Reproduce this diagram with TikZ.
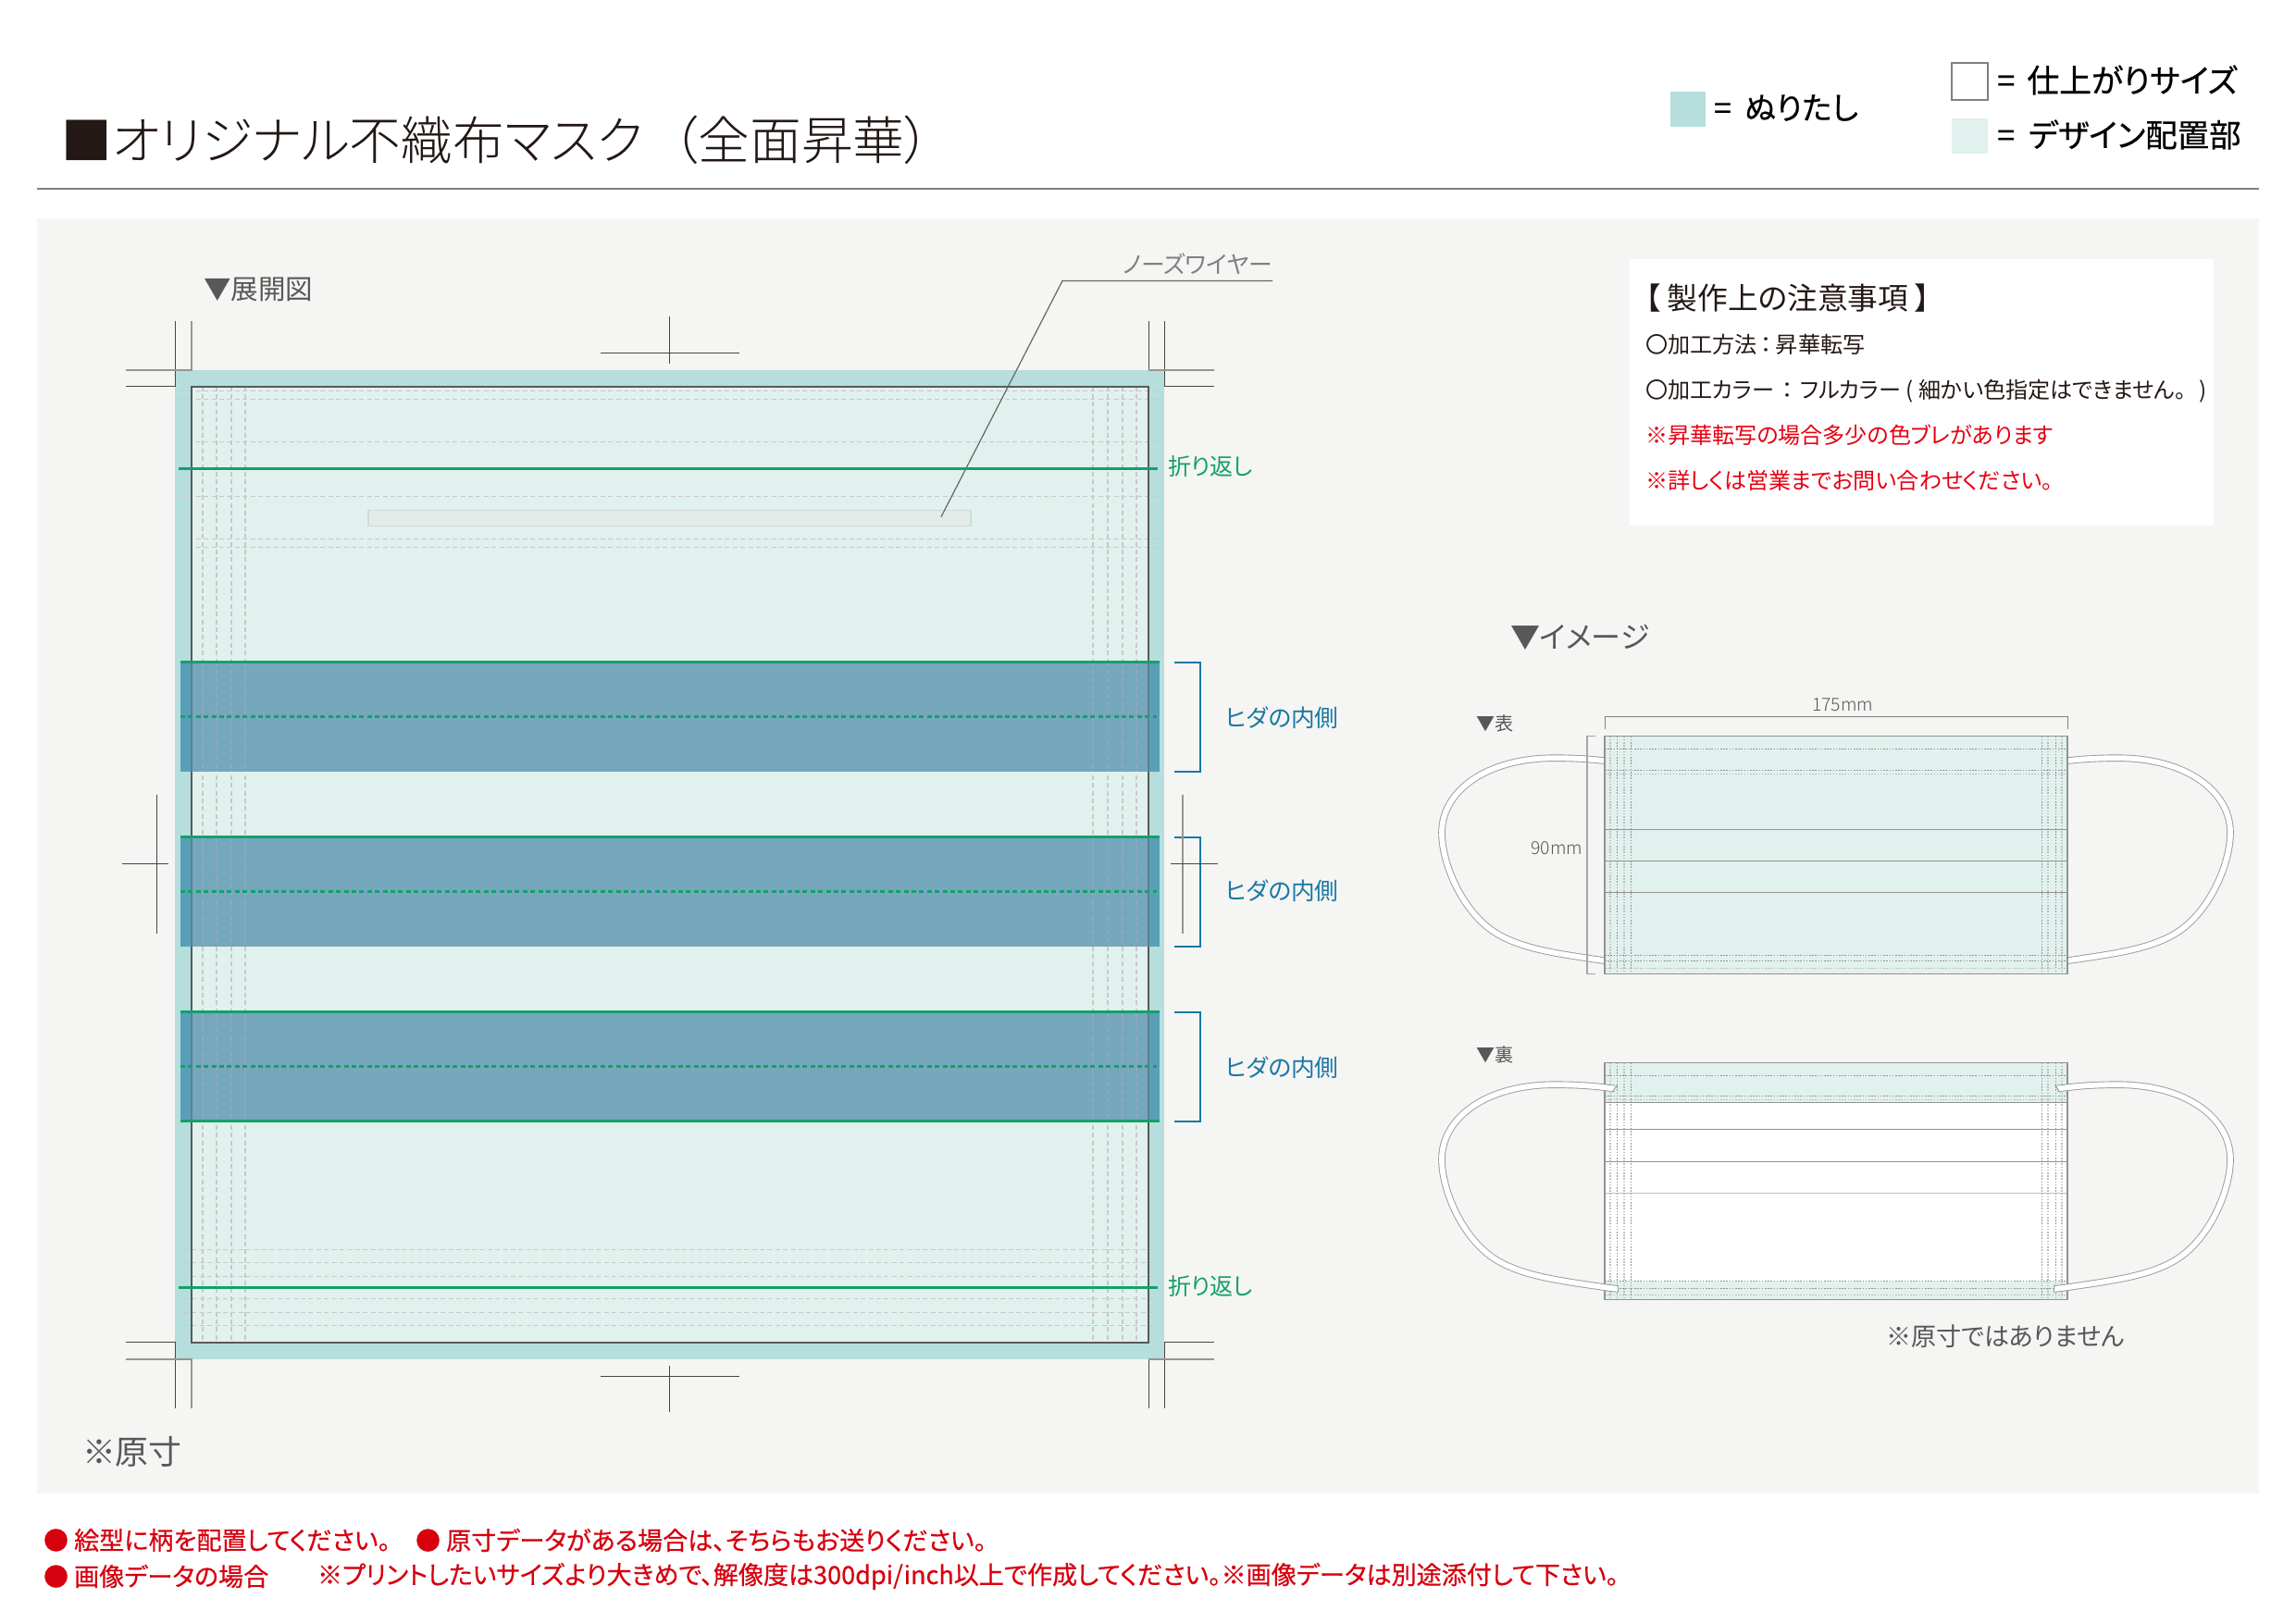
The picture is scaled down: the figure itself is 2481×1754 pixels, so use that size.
\documentclass[tikz,border=0pt]{standalone}
\usepackage{fontspec}
\setmainfont{Noto Sans CJK JP}[RawFeature=+palt]
\newfontfamily\lightfont{Noto Sans CJK JP Light}[RawFeature=+palt]
\newfontfamily\heavyfont{Noto Sans CJK JP}[RawFeature=+palt,FakeBold=0.45]
\usetikzlibrary{positioning}

\definecolor{bleedcol}{HTML}{B5DEDD}
\definecolor{designcol}{HTML}{E1F1EE}
\definecolor{panelcol}{HTML}{F5F5F3}
\definecolor{foldin}{HTML}{75A7BD}
\definecolor{foldout}{HTML}{5A9FB8}
\definecolor{foldtrim}{HTML}{5F7F90}
\definecolor{folddash}{HTML}{8DA9BC}
\definecolor{greencol}{HTML}{14A06A}
\definecolor{bluecol}{HTML}{1A78A3}
\definecolor{redcol}{HTML}{E60012}
\definecolor{deepred}{HTML}{D7000F}
\definecolor{inkcol}{HTML}{231815}
\definecolor{textcol}{HTML}{595757}
\definecolor{markdark}{HTML}{4A4443}
\definecolor{markgrey}{HTML}{9A9590}
\definecolor{dashcol}{HTML}{C8C9C9}
\definecolor{wirefill}{HTML}{E4ECEA}
\definecolor{wireedge}{HTML}{D0DADA}

\newcommand{\earcurve}{.. controls (-18,24.5) and (-36,23.7) .. (-54.3,23.7)
  .. controls (-127.7,23.7) and (-176,59.3) .. (-176,104.3)
  .. controls (-176,139.3) and (-152.7,191) .. (-117.7,212.7)
  .. controls (-87.7,231.3) and (-44.3,236) .. (0,242.7)}

\tikzset{
  lbl/.style={anchor=west, inner sep=0pt, outer sep=0pt},
  darkmark/.style={draw=markdark, line width=0.01cm},
  greymark/.style={draw=markgrey, line width=0.02cm},
  bigdash/.style={draw=dashcol, line width=0.014cm, dash pattern=on 0.05cm off 0.034cm},
  smalldark/.style={draw=gray!85, line width=0.008cm, dash pattern=on 0.016cm off 0.016cm},
  smalllight/.style={draw=gray!50, line width=0.014cm, dash pattern=on 0.016cm off 0.016cm},
  earband/.style={draw=gray!80, line width=0.009cm, double=white, double distance=0.058cm},
  maskline/.style={draw=gray!85, line width=0.012cm},
}

\begin{document}
\begin{tikzpicture}[x=0.01cm, y=-0.01cm]
  \useasboundingbox (0,0) rectangle (2481,1754);
  \fill[white] (0,0) rectangle (2481,1754);
  \begin{scope}[yshift=-0.015cm]

  % Header
  \node (mark) [lbl, text=inkcol, font=\fontsize{15.5}{20}\selectfont] at (66,150) {■};
  \node (title) [lbl, text=inkcol, font=\fontsize{15.85}{18}\lightfont] at (121,150) {オリジナル不織布マスク\hspace{9pt}（全面昇華）};
  \draw[draw=gray, line width=0.02cm] (40,202) -- (2441,202);

  % Legend
  \fill[bleedcol] (1805,97) rectangle (1843,135);
  \node (bleedtxt) [lbl, font=\fontsize{9.6}{12}\heavyfont] at (1852,115) {=\hspace{2pt} ぬりたし};
  \draw[draw=gray, line width=0.02cm, fill=white] (2109,66) rectangle (2148,106);
  \node (trimtxt) [lbl, font=\fontsize{9.9}{12}\heavyfont] at (2158,85) {=\hspace{1.5pt} 仕上がりサイズ};
  \fill[designcol] (2109,126) rectangle (2148,164);
  \node (designtxt) [lbl, font=\fontsize{9.8}{12}\heavyfont] at (2158,144) {=\hspace{2pt} デザイン配置部};

  % Panel
  \fill[panelcol] (40,234) rectangle (2441,1612);
  \node (plan) [lbl, text=textcol, font=\fontsize{8.4}{10}\selectfont] at (220,311) {▼展開図};
  \node (scale) [lbl, text=textcol, font=\fontsize{10.2}{12}\selectfont] at (89,1567) {※原寸};

  % Pattern
  \fill[bleedcol] (189,398) rectangle (1258,1467);
  \fill[designcol] (207,416) rectangle (1241,1449);
  \foreach \x in {219,234,250,265,1181,1197,1213,1228}
    \draw[bigdash] (\x,416) -- (\x,1449);
  \foreach \y in {421,430,476,535,581,590}
    \draw[bigdash] (195,\y) -- (1253,\y);
  \foreach \y in {1349,1363,1378,1402,1417,1431}
    \draw[bigdash] (199,\y) -- (1250,\y);
  \draw[draw=black!65, line width=0.02cm] (207,416) rectangle (1241,1449);

  % Nose wire
  \draw[draw=wireedge, line width=0.015cm, fill=wirefill] (398,550) rectangle (1049,567);
  \coordinate (wiretip) at (1017,557);
  \coordinate (wirebend) at (1148,302);
  \coordinate (wireend) at (1375,302);
  \node (wiretxt) [lbl, text=gray, font=\fontsize{7.3}{9}\selectfont] at (1213,284) {ノーズワイヤー};
  \draw[draw=black!60, line width=0.012cm] (wiretip) -- (wirebend) -- (wireend);

  % Fold lines
  \foreach \y/\n in {505/fa,1390/fb} {
    \draw[draw=greencol, line width=0.025cm] (193,\y) -- (1251,\y);
    \node (\n) [lbl, text=greencol, font=\fontsize{7.1}{9}\selectfont] at (1262,\y-2) {折り返し};
  }

  % Pleats
  \foreach \t/\m/\b/\l/\n in {714/773/832/774/pa,903/962/1021/961/pb,1092/1151/1210/1152/pc} {
    \fill[foldout] (195,\t) rectangle (1253,\b);
    \fill[foldin] (207,\t) rectangle (1241,\b);
    \foreach \x in {219,234,250,265,1181,1197,1213,1228}
      \draw[bigdash, draw=folddash] (\x,\t) -- (\x,\b);
    \draw[draw=foldtrim, line width=0.02cm] (207,\t) -- (207,\b) (1241,\t) -- (1241,\b);
    \draw[draw=greencol, line width=0.025cm] (195,\t) -- (1253,\t);
    \draw[draw=greencol, line width=0.025cm, dash pattern=on 0.05cm off 0.034cm] (195,\m) -- (1250,\m);
    \draw[draw=bluecol, line width=0.02cm] (1269,\t) -- (1297,\t) -- (1297,\b) -- (1269,\b);
    \node (\n) [lbl, text=bluecol, font=\fontsize{7.3}{9}\selectfont] at (1324,\l) {ヒダの内側};
  }
  \draw[draw=greencol, line width=0.025cm] (195,1210) -- (1253,1210);

  % Crop marks
  \draw[darkmark] (136,416) -- (189,416) -- (189,345);
  \draw[greymark] (136,398) -- (207,398) -- (207,345);
  \draw[darkmark] (1312,416) -- (1258,416) -- (1258,345);
  \draw[darkmark] (1241,398) -- (1241,345);
  \draw[greymark] (1241,398) -- (1312,398);
  \draw[darkmark] (136,1449) -- (189,1449) -- (189,1520);
  \draw[greymark] (136,1467) -- (207,1467) -- (207,1520);
  \draw[darkmark] (1312,1449) -- (1258,1449) -- (1258,1520);
  \draw[darkmark] (1241,1467) -- (1241,1520);
  \draw[greymark] (1241,1467) -- (1312,1467);
  % Centre marks
  \draw[darkmark] (723,340) -- (723,391) (649,380) -- (799,380);
  \draw[darkmark] (723,1474) -- (723,1524) (649,1486) -- (799,1486);
  \draw[darkmark] (169,857) -- (169,1007) (132,932) -- (182,932);
  \draw[greymark] (1278,857) -- (1278,1007);
  \draw[darkmark] (1265,932) -- (1316,932);

  % Notes
  \fill[white] (1761,278) rectangle (2392,566);
  \node (nhead) [lbl, text=inkcol, font=\fontsize{9.3}{11}\selectfont] at (1778,321) {【 製作上の注意事項 】};
  \node (n1) [lbl, text=inkcol, font=\fontsize{6.85}{8}\selectfont] at (1778,371) {〇加工方法\hspace{1.2pt}：\hspace{1.2pt}昇華転写};
  \node (n2) [lbl, text=inkcol, font=\fontsize{6.85}{8}\selectfont] at (1778,421) {〇加工カラー\hspace{2.3pt}：\hspace{2.3pt}フルカラー ( 細かい色指定はできません。\hspace{4pt})};
  \node (n3) [lbl, text=redcol, font=\fontsize{6.85}{8}\selectfont] at (1778,469) {※昇華転写の場合多少の色ブレがあります};
  \node (n4) [lbl, text=redcol, font=\fontsize{6.85}{8}\selectfont] at (1778,518) {※詳しくは営業までお問い合わせください。};

  % Image heading
  \node (image) [lbl, text=textcol, font=\fontsize{9.1}{10}\selectfont] at (1632,687) {▼イメージ};
  \node (front) [lbl, text=textcol, font=\fontsize{5.7}{7}\selectfont] at (1595,780) {▼表};
  \node (back) [lbl, text=textcol, font=\fontsize{5.7}{7}\selectfont] at (1595,1138) {▼裏};

  % Front mask
  \begin{scope}[shift={(1734,794)}]
    \draw[earband] (0,26.7) \earcurve;
  \end{scope}
  \begin{scope}[shift={(2234,794)}, xscale=-1]
    \draw[earband] (0,26.7) \earcurve;
  \end{scope}
  \fill[designcol] (1734,794) rectangle (2234,1051);
  \foreach \x in {1740,1755,2213,2228} \draw[smalllight] (\x,794) -- (\x,1051);
  \foreach \x in {1747,1762,2206,2221} \draw[smalldark] (\x,794) -- (\x,1051);
  \foreach \y in {835,1045} \draw[smalllight] (1734,\y) -- (2234,\y);
  \foreach \y in {808,831,1031,1037} \draw[smalldark] (1734,\y) -- (2234,\y);
  \foreach \y in {895,929,963} \draw[draw=gray!85, line width=0.01cm] (1734,\y) -- (2234,\y);
  \draw[maskline] (1734,794) rectangle (2234,1051);

  % Sizes
  \draw[draw=gray, line width=0.01cm] (1734,786) -- (1734,773) -- (2234,773) -- (2234,786);
  \draw[draw=gray!70, line width=0.016cm] (1724,794) -- (1715,794) -- (1715,1051) -- (1724,1051);
  \node (width) [text=textcol, inner sep=0pt, font=\fontsize{5.5}{7}\lightfont] at (1991,760) {175mm};
  \node (height) [anchor=east, text=textcol, inner sep=0pt, font=\fontsize{5.5}{7}\lightfont] at (1711,915) {90mm};

  % Back mask
  \fill[white] (1734,1147) rectangle (2234,1403);
  \fill[designcol] (1734,1147) rectangle (2234,1190);
  \fill[designcol] (1734,1383) rectangle (2234,1403);
  \foreach \x in {1740,1755,2213,2228} \draw[smalllight] (\x,1147) -- (\x,1403);
  \foreach \x in {1747,1762,2206,2221} \draw[smalldark] (\x,1147) -- (\x,1403);
  \foreach \y in {1187,1398} \draw[smalllight] (1734,\y) -- (2234,\y);
  \foreach \y in {1161,1183,1383,1391} \draw[smalldark] (1734,\y) -- (2234,\y);
  \foreach \y in {1190,1219,1254} \draw[draw=gray!85, line width=0.01cm] (1734,\y) -- (2234,\y);
  \draw[draw=gray!50, line width=0.014cm] (1734,1288) -- (2234,1288);
  \draw[maskline] (1734,1147) rectangle (2234,1403);
  \begin{scope}[shift={(1734,1147)}]
    \draw[earband] (10.8,28) -- (0,26.7) \earcurve -- (14.3,244.5);
    \draw[draw=gray!80, line width=0.009cm] (13.3,24.3) -- (8.3,31.7) (14,240) -- (14.7,248);
  \end{scope}
  \begin{scope}[shift={(2234,1147)}, xscale=-1]
    \draw[earband] (10.8,28) -- (0,26.7) \earcurve -- (14.3,244.5);
    \draw[draw=gray!80, line width=0.009cm] (13.3,24.3) -- (8.3,31.7) (14,240) -- (14.7,248);
  \end{scope}
  \node (notreal) [lbl, text=textcol, font=\fontsize{7.7}{9}\selectfont] at (2038,1443) {※原寸ではありません};

  % Footer
  \node (f1) [lbl, text=deepred, font=\fontsize{7.7}{9}\heavyfont] at (47,1663) {● 絵型に柄を配置してください。};
  \node (f2) [lbl, text=deepred, font=\fontsize{7.7}{9}\heavyfont] at (449,1663) {● 原寸データがある場合は、そちらもお送りください。};
  \node (f3) [lbl, text=deepred, font=\fontsize{7.7}{9}\heavyfont] at (47,1702) {● 画像データの場合};
  \node (f4) [lbl, text=deepred, font=\fontsize{7.7}{9}\heavyfont] at (343,1702) {※プリントしたいサイズより大きめで、解像度は300dpi/inch以上で作成してください。※画像データは別途添付して下さい。};
  \end{scope}
\end{tikzpicture}
\end{document}
